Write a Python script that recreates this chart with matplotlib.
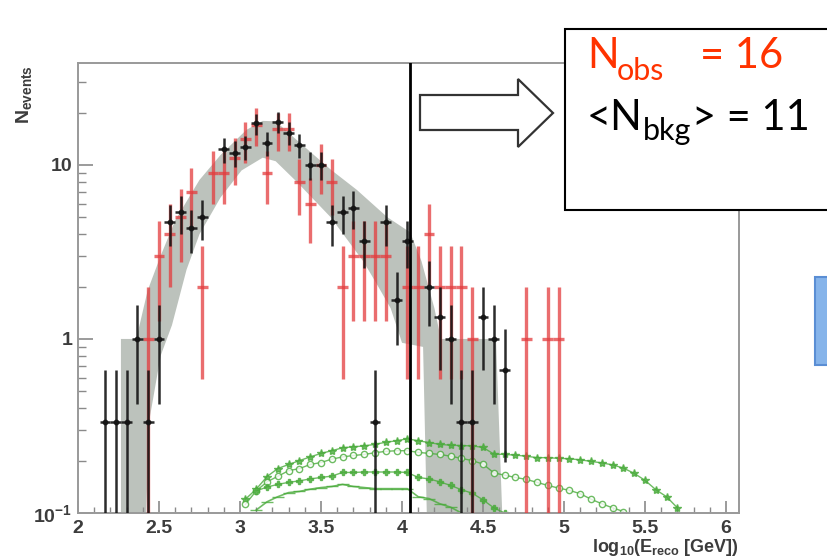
import numpy as np
import matplotlib
matplotlib.use("Agg")
import matplotlib.pyplot as plt
from matplotlib.patches import Polygon, Rectangle
from matplotlib.ticker import MultipleLocator, LogLocator, NullFormatter

plt.rcParams['mathtext.default'] = 'regular'
plt.rcParams['font.family'] = ['Liberation Sans', 'DejaVu Sans']

# ---------------- data ----------------
half_bin = 1 / 30.0

# background estimate (black, off-source counts / 3)
black_x = [2.167, 2.233, 2.3, 2.367, 2.433, 2.5, 2.567, 2.633, 2.7, 2.767, 2.9,
           2.967, 3.033, 3.1, 3.167, 3.233, 3.3, 3.367, 3.433, 3.5, 3.567, 3.633, 3.7,
           3.767, 3.833, 3.9, 3.967, 4.033, 4.167, 4.233, 4.3, 4.367, 4.433, 4.5, 4.567, 4.633]
black_y = [0.333, 0.333, 0.333, 1.0, 0.333, 1.0, 4.67, 5.33, 4.33, 5.0, 12.33,
           11.67, 12.67, 17.33, 13.33, 17.67, 15.33, 13.0, 10.0, 10.0, 4.67, 5.33, 5.67,
           3.67, 0.333, 4.67, 1.67, 3.67, 2.0, 1.33, 1.0, 0.333, 0.333, 1.33, 1.0, 0.667]

# observed (red)
red_x = [2.433, 2.5, 2.567, 2.633, 2.7, 2.767, 2.833, 2.9, 2.967, 3.033, 3.1, 3.167,
         3.233, 3.3, 3.367, 3.433, 3.5, 3.567, 3.633, 3.7, 3.767, 3.833, 3.9,
         4.033, 4.1, 4.167, 4.233, 4.3, 4.367, 4.433, 4.767, 4.9, 4.967]
red_y = [1, 3, 4, 5, 7, 2, 9, 9, 11, 14, 17, 9,
         16, 16, 8, 6, 10, 8, 2, 3, 3, 3, 3,
         2, 2, 4, 2, 2, 2, 1, 1, 1, 1]

# MC band (upper edge then lower edge)
band_up_x = [2.265, 2.36, 2.43, 2.51, 2.60, 2.75, 2.88, 3.04, 3.14, 3.22, 3.35, 3.56,
             3.72, 3.91, 4.05, 4.12, 4.20, 4.24, 4.58, 4.63]
band_up_y = [1.0, 1.0, 1.9, 3.0, 4.8, 8.2, 11.4, 15.9, 17.9, 17.8, 13.9, 9.4,
             7.2, 5.0, 4.1, 2.8, 1.5, 1.0, 1.0, 0.05]
band_lo_x = [2.265, 2.41, 2.44, 2.51, 2.58, 2.67, 2.75, 2.88, 3.01, 3.14, 3.22, 3.35,
             3.56, 3.76, 3.84, 3.93, 4.00, 4.13, 4.16, 4.63]
band_lo_y = [0.05, 0.05, 0.34, 0.8, 1.2, 2.5, 4.0, 6.5, 9.3, 11.0, 10.5, 8.0,
             5.0, 2.8, 2.1, 1.5, 0.95, 0.9, 0.05, 0.05]

# signal expectations (green)
sig1_x = [3.033, 3.1, 3.167, 3.233, 3.3, 3.367, 3.433, 3.5, 3.567, 3.633, 3.7, 3.767,
          3.833, 3.9, 3.967, 4.033, 4.1, 4.167, 4.233, 4.3, 4.367, 4.433, 4.5, 4.567,
          4.633, 4.7, 4.767, 4.833, 4.9, 4.967, 5.033, 5.1, 5.167, 5.233, 5.3, 5.367,
          5.433, 5.5, 5.567, 5.633, 5.7]
sig1_y = [0.12, 0.137, 0.162, 0.18, 0.19, 0.20, 0.21, 0.22, 0.228, 0.237, 0.24, 0.243,
          0.248, 0.255, 0.26, 0.267, 0.26, 0.254, 0.248, 0.245, 0.244, 0.243, 0.238, 0.218,
          0.217, 0.215, 0.212, 0.208, 0.208, 0.206, 0.205, 0.202, 0.198, 0.194, 0.189, 0.181,
          0.169, 0.154, 0.136, 0.124, 0.107]
sig2_x = [3.033, 3.1, 3.167, 3.233, 3.3, 3.367, 3.433, 3.5, 3.567, 3.633, 3.7, 3.767,
          3.833, 3.9, 3.967, 4.033, 4.1, 4.167, 4.233, 4.3, 4.367, 4.433, 4.5, 4.567,
          4.633, 4.7, 4.767, 4.833, 4.9, 4.967, 5.033, 5.1, 5.167, 5.233, 5.3, 5.367]
sig2_y = [0.112, 0.134, 0.151, 0.1625, 0.175, 0.18, 0.19, 0.195, 0.204, 0.21, 0.214, 0.217,
          0.222, 0.226, 0.228, 0.228, 0.223, 0.22, 0.217, 0.212, 0.206, 0.2, 0.191, 0.17,
          0.165, 0.16, 0.156, 0.15, 0.144, 0.139, 0.135, 0.129, 0.12, 0.113, 0.107, 0.102]
sig3_x = [3.1, 3.167, 3.233, 3.3, 3.367, 3.433, 3.5, 3.567, 3.633, 3.7, 3.767, 3.833,
          3.9, 3.967, 4.033, 4.1, 4.167, 4.233, 4.3, 4.367, 4.433, 4.5, 4.567, 4.633]
sig3_y = [0.134, 0.141, 0.146, 0.15, 0.153, 0.157, 0.16, 0.163, 0.171, 0.171, 0.172, 0.172,
          0.172, 0.172, 0.171, 0.16, 0.157, 0.151, 0.144, 0.136, 0.13, 0.119, 0.107, 0.1]
sig4_x = [3.1, 3.167, 3.233, 3.3, 3.367, 3.433, 3.5, 3.567, 3.633, 3.7, 3.767, 3.833,
          3.9, 3.967, 4.033, 4.1, 4.167, 4.233, 4.3, 4.367]
sig4_y = [0.104, 0.116, 0.124, 0.131, 0.133, 0.137, 0.14, 0.142, 0.146, 0.142, 0.14, 0.138,
          0.138, 0.138, 0.138, 0.124, 0.121, 0.113, 0.108, 0.1]

cut_value = 4.05
x_ticks = [2, 2.5, 3, 3.5, 4, 4.5, 5, 5.5, 6]
x_tick_labels = ['2', '2.5', '3', '3.5', '4', '4.5', '5', '5.5', '6']
y_ticks = [0.1, 1, 10]
y_tick_labels = ['10$^{-1}$', '1', '10']

n_obs_text = '= 16'
n_bkg_text = '> = 11'

# ---------------- figure ----------------
W, H = 828, 559
fig = plt.figure(figsize=(W / 100, H / 100), dpi=100)
fx = lambda p: p / W
fy = lambda p: 1 - p / H

ax = fig.add_axes([fx(78), fy(513), fx(739) - fx(78), fy(63) - fy(513)])
ax.set_yscale('log')
ax.set_xlim(2, 6.08)
ax.set_ylim(0.1, 38.5)

# band
ax.fill(band_up_x + band_lo_x[::-1], band_up_y + band_lo_y[::-1],
        color='#bcc2bc', lw=0, zorder=1)

# green signal curves
g = '#4aab3c'
ax.plot(sig1_x, sig1_y, color=g, lw=1.0, marker='*', ms=6, mec=g, mfc=g, alpha=0.8, zorder=2)
ax.plot(sig2_x, sig2_y, color=g, lw=1.0, marker='o', ms=4.5, mec=g, mfc='white', mew=1.0, alpha=0.8, zorder=2)
ax.plot(sig3_x, sig3_y, color=g, lw=1.0, marker='P', ms=5, mec=g, mfc=g, alpha=0.8, zorder=2)
ax.plot(sig4_x, sig4_y, color=g, lw=1.2, marker='_', ms=8, mec=g, alpha=0.8, zorder=2)

# red observed
ry = np.array(red_y, dtype=float)
rerr = np.sqrt(ry)
rlo = np.minimum(rerr, ry - 1e-3)
ax.errorbar(red_x, ry, xerr=half_bin, yerr=[rlo, rerr], fmt='none',
            ecolor='#e33c3e', elinewidth=2.4, alpha=0.75, capsize=0, zorder=3)

# black background
by = np.array(black_y, dtype=float)
berr = np.sqrt(by * 3) / 3
blo = np.minimum(berr, by - 1e-3)
ax.errorbar(black_x, by, xerr=half_bin, yerr=[blo, berr], fmt='o', ms=3.2,
            color='#151515', ecolor='#151515', elinewidth=1.8, capsize=0, alpha=0.9, zorder=4)

ax.axvline(cut_value, color='black', lw=2.0, zorder=5)

# axes styling
for s in ax.spines.values():
    s.set_color('#999999')
    s.set_linewidth(1.4)
ax.set_xticks(x_ticks)
ax.set_xticklabels(x_tick_labels)
ax.xaxis.set_minor_locator(MultipleLocator(0.1))
ax.set_yticks(y_ticks)
ax.set_yticklabels(y_tick_labels)
ax.yaxis.set_minor_locator(LogLocator(base=10, subs=np.arange(2, 10)))
ax.yaxis.set_minor_formatter(NullFormatter())
ax.tick_params(which='both', direction='in', colors='#8a8a8a', labelcolor='#3c3c3c')
ax.tick_params(axis='x', which='major', length=9, width=1.2, pad=5, labelsize=14)
ax.tick_params(axis='x', which='minor', length=4.5, width=1.0)
ax.tick_params(axis='y', which='major', length=11, width=1.2, pad=4, labelsize=14)
ax.tick_params(axis='y', which='minor', length=5.5, width=1.0)
for lab in ax.get_xticklabels() + ax.get_yticklabels():
    lab.set_fontweight('bold')

# axis titles
fig.text(fx(24), fy(95), r'N$_{events}$', rotation=90, ha='center', va='center',
         fontsize=14, fontweight='bold', color='#3c3c3c')
fig.text(fx(739), fy(552), r'log$_{10}$(E$_{reco}$ [GeV])', ha='right', va='baseline',
         fontsize=13, fontweight='bold', color='#3c3c3c')

# arrow
arrow_px = [(420, 95), (518, 95), (518, 79), (553, 113), (518, 147), (518, 130), (420, 130)]
fig.patches.append(Polygon([(fx(x), fy(y)) for x, y in arrow_px], closed=True,
                           transform=fig.transFigure, facecolor='white',
                           edgecolor='#333333', lw=1.6, zorder=10))

# text box
fig.patches.append(Rectangle((fx(565), fy(210)), fx(840) - fx(565), fy(29) - fy(210),
                             transform=fig.transFigure, facecolor='white',
                             edgecolor='black', lw=1.5, zorder=10))
red_c = '#ff3300'
tf = ['Lato', 'DejaVu Sans']
fig.text(fx(587), fy(68), 'N', color=red_c, fontsize=30, family=tf, va='baseline', zorder=11)
fig.text(fx(617), fy(80), 'obs', color=red_c, fontsize=22, family=tf, va='baseline', zorder=11)
fig.text(fx(700), fy(68), n_obs_text, color=red_c, fontsize=30, family=tf, va='baseline', zorder=11)
fig.text(fx(587), fy(130), '<N', color='black', fontsize=30, family=tf, va='baseline', zorder=11)
fig.text(fx(643), fy(140), 'bkg', color='black', fontsize=22, family=tf, va='baseline', zorder=11)
fig.text(fx(692), fy(130), n_bkg_text, color='black', fontsize=30, family=tf, va='baseline', zorder=11)

# blue box at right edge
fig.patches.append(Rectangle((fx(815), fy(365)), fx(840) - fx(815), fy(277) - fy(365),
                             transform=fig.transFigure, facecolor='#86b4ea',
                             edgecolor='#5a8ed4', lw=1.5, zorder=10))

fig.savefig('out.png', dpi=100)
